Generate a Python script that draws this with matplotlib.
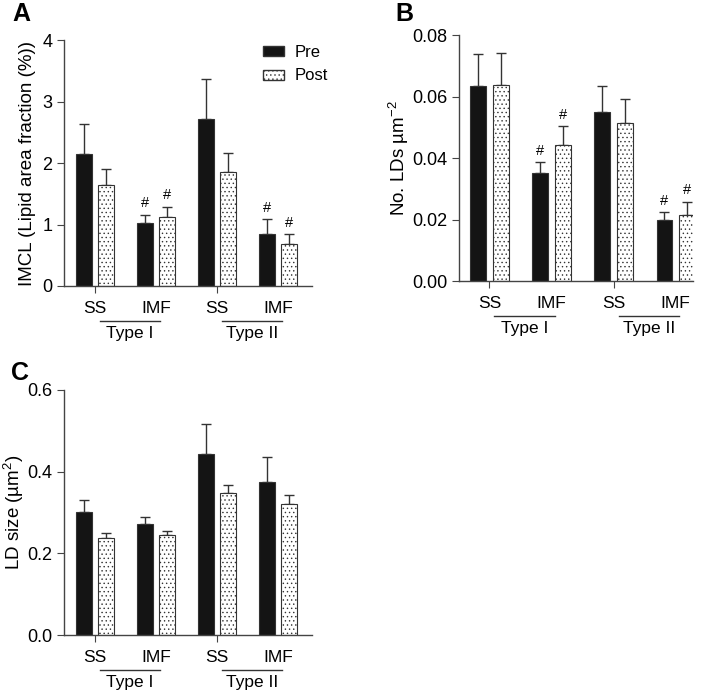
import numpy as np
import matplotlib
matplotlib.use("Agg")
import matplotlib.pyplot as plt
from matplotlib.patches import Patch
from matplotlib.transforms import ScaledTranslation

plt.rcParams["font.family"] = ["Liberation Sans", "DejaVu Sans"]
plt.rcParams["mathtext.fontset"] = "custom"
plt.rcParams["mathtext.rm"] = "Liberation Sans"
plt.rcParams["mathtext.it"] = "Liberation Sans:italic"
plt.rcParams["hatch.color"] = "#8c8c8c"
plt.rcParams["hatch.linewidth"] = 0.5

# Data (mean and upper SEM), order: SS I, IMF I, SS II, IMF II
groups = ["SS", "IMF", "SS", "IMF"]
types = ["Type I", "Type II"]

imcl_pre = [2.14, 1.03, 2.71, 0.85]
imcl_pre_err = [0.50, 0.13, 0.65, 0.24]
imcl_post = [1.64, 1.13, 1.85, 0.69]
imcl_post_err = [0.27, 0.16, 0.31, 0.16]

lds_pre = [0.0635, 0.0351, 0.0550, 0.0198]
lds_pre_err = [0.0103, 0.0035, 0.0085, 0.0026]
lds_post = [0.0637, 0.0441, 0.0513, 0.0216]
lds_post_err = [0.0103, 0.0064, 0.0078, 0.0042]

size_pre = [0.302, 0.273, 0.444, 0.375]
size_pre_err = [0.028, 0.016, 0.073, 0.061]
size_post = [0.238, 0.245, 0.347, 0.321]
size_post_err = [0.011, 0.009, 0.020, 0.022]

sig_imf = [1, 3]  # groups marked with '#'

fig = plt.figure(figsize=(7.08, 6.95), dpi=100)


def draw_panel(ax, pre, pre_err, post, post_err, ymax, yticks, ylab, fmt, xlim, labx, sig=True):
    x = np.arange(len(groups))
    off = 0.18
    w = 0.255
    ax.bar(x - off, pre, w, color="#141414", edgecolor="#333333", linewidth=0.8, zorder=2)
    ax.bar(x + off, post, w, color="white", edgecolor="#333333", linewidth=0.8,
           hatch="....", zorder=2)
    ax.errorbar(x - off, pre, yerr=[np.zeros(4), pre_err], fmt="none", ecolor="#333333",
                elinewidth=1, capsize=3.5, capthick=1, zorder=1)
    ax.errorbar(x + off, post, yerr=[np.zeros(4), post_err], fmt="none", ecolor="#333333",
                elinewidth=1, capsize=3.5, capthick=1, zorder=1)
    if sig:
        for g in sig_imf:
            for xx, v, e in [(g - off, pre[g], pre_err[g]), (g + off, post[g], post_err[g])]:
                ax.annotate("#", (xx, v + e), xytext=(0, 3), textcoords="offset points",
                            ha="center", va="bottom", fontsize=10.5)
    ax.set_ylim(0, ymax)
    ax.set_xlim(*xlim)
    ax.set_yticks(yticks)
    ax.set_yticklabels([fmt.format(t) for t in yticks])
    ax.set_ylabel(ylab, fontsize=13.5)
    ax.yaxis.set_label_coords(labx, 0.5)
    ax.spines["top"].set_visible(False)
    ax.spines["right"].set_visible(False)
    for s in ["left", "bottom"]:
        ax.spines[s].set_color("#444444")
        ax.spines[s].set_linewidth(1)
    ax.tick_params(axis="y", direction="out", length=5, labelsize=13, color="#444444")
    ax.tick_params(axis="x", direction="out", length=5, labelsize=12.5, color="#444444", pad=6)
    ax.set_xticks(x)
    ax.set_xticklabels(groups)
    ticks = ax.xaxis.get_major_ticks()
    ticks[1].tick1line.set_visible(False)
    ticks[3].tick1line.set_visible(False)
    # Type I / Type II underline and labels
    tl = ax.get_xaxis_transform() + ScaledTranslation(0, -0.35, fig.dpi_scale_trans)
    tt = ax.get_xaxis_transform() + ScaledTranslation(0, -0.475, fig.dpi_scale_trans)
    for i, name in enumerate(types):
        x0 = 2 * i + 0.08
        x1 = 2 * i + 1.06
        ax.plot([x0, x1], [0, 0], color="#333333", lw=1, transform=tl, clip_on=False)
        ax.text((x0 + x1) / 2, 0, name, transform=tt, ha="center", va="center", fontsize=12.5)


# Panel A
axA = fig.add_axes([64 / 708, 1 - 286 / 695, 248 / 708, 246 / 695])
draw_panel(axA, imcl_pre, imcl_pre_err, imcl_post, imcl_post_err, 4, [0, 1, 2, 3, 4],
           "IMCL (Lipid area fraction (%))", "{:g}", (-0.51, 3.56), -0.113)
leg_handles = [Patch(facecolor="#141414", edgecolor="#333333", label="Pre"),
               Patch(facecolor="white", edgecolor="#333333", hatch="....", label="Post")]
axA.legend(handles=leg_handles, loc="upper left", bbox_to_anchor=(0.74, 1.04), frameon=False,
           fontsize=12, handlelength=1.3, handleheight=0.55, labelspacing=0.5, handletextpad=0.6)
fig.text(12 / 708, 1 - 14 / 695, "A", fontsize=18, fontweight="bold", va="center")

# Panel B
axB = fig.add_axes([459 / 708, 1 - 281 / 695, 234 / 708, 246 / 695])
draw_panel(axB, lds_pre, lds_pre_err, lds_post, lds_post_err, 0.08,
           [0, 0.02, 0.04, 0.06, 0.08], "No. LDs µm$^{-2}$", "{:.2f}", (-0.49, 3.28), -0.205)
fig.text(395 / 708, 1 - 14 / 695, "B", fontsize=18, fontweight="bold", va="center")

# Panel C
axC = fig.add_axes([64 / 708, 1 - 635 / 695, 248 / 708, 245 / 695])
draw_panel(axC, size_pre, size_pre_err, size_post, size_post_err, 0.6,
           [0, 0.2, 0.4, 0.6], "LD size (µm$^2$)", "{:.1f}", (-0.51, 3.56), -0.155, sig=False)
fig.text(11 / 708, 1 - 373 / 695, "C", fontsize=18, fontweight="bold", va="center")

fig.savefig("out.png", dpi=100)
